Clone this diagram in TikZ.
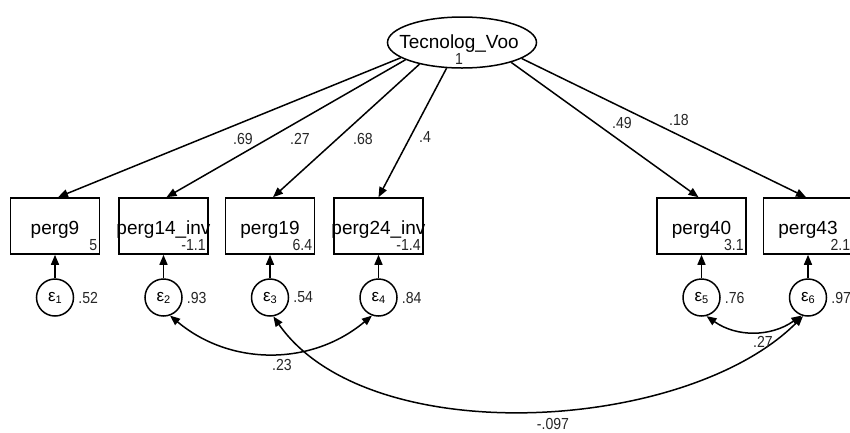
\documentclass[tikz,border=0pt]{standalone}
\usepackage{fontspec}
\setmainfont{Liberation Sans}
\newfontfamily\numfont[FakeStretch=0.88]{Liberation Sans}
\usetikzlibrary{arrows.meta,shapes.geometric}

\begin{document}
\begin{tikzpicture}[x=1pt,y=1pt,
  obs/.style={draw, line width=1.6pt, rectangle, minimum width=89pt, minimum height=56pt, inner sep=0pt},
  lat/.style={draw, line width=1.5pt, ellipse, minimum width=149pt, minimum height=51pt, inner sep=0pt},
  err/.style={draw, line width=1.5pt, circle, minimum size=37pt, inner sep=0pt},
  varlabel/.style={font=\fontsize{19}{19}\selectfont, inner sep=0pt, text=black},
  num/.style={font=\numfont\fontsize{16}{16}\selectfont, inner sep=0pt, text=black!85},
  loading/.style={line width=1.5pt, -{Triangle[length=10pt,width=8pt]}},
  cov/.style={line width=1.5pt, {Triangle[length=10pt,width=8pt]}-{Triangle[length=10pt,width=8pt]}},
]
\useasboundingbox (0,0) rectangle (850,-432);
\clip (0,0) rectangle (850,-432);
\fill[white] (0,0) rectangle (850,-432);

% latent variable
\node[lat] (lv) at (462,-42.5) {};
\node[varlabel, anchor=base] (lvname) at (459,-48) {Tecnolog\_Voo};
\node[num, anchor=base] (lvvar) at (459,-64) {1};

% observed indicators
\foreach \id/\x/\lab/\m in {p9/55/perg9/5, p14/163.5/perg14\_inv/-1.1, p19/270/perg19/6.4,
    p24/378.5/perg24\_inv/-1.4, p40/701.5/perg40/3.1, p43/808/perg43/2.1}{
  \node[obs] (\id) at (\x,-226) {};
  \node[varlabel, anchor=base] (\id name) at (\x,-234) {\lab};
  \node[num, anchor=base east] (\id mean) at ([xshift=-3pt,yshift=4pt]\id.south east) {\m};
}

% error terms
\foreach \id/\x/\k/\v in {e1/55/1/.52, e2/163.5/2/.93, e3/270/3/.54,
    e4/378.5/4/.84, e5/701.5/5/.76, e6/808/6/.97}{
  \node[err] (\id) at (\x,-297.5) {\fontsize{17}{17}\selectfont ε\raisebox{-2pt}{\fontsize{11}{11}\selectfont\k}};
  \node[num, anchor=west] (\id var) at ([xshift=4pt]\id.east) {\v};
}

% error paths
\foreach \e/\p in {e1/p9, e2/p14, e3/p19, e4/p24, e5/p40, e6/p43}
  \draw[loading] (\e) -- (\p);

% factor loadings
\draw[loading] (lv.194.3) -- ([xshift=3pt]p9.north);
\draw[loading] (lv.197.4) -- ([xshift=3pt]p14.north);
\draw[loading] (lv.207.1) -- ([xshift=3pt]p19.north);
\draw[loading] (lv.239.5) -- (p24.north);
\draw[loading] (lv.338.7) -- ([xshift=-3pt]p40.north);
\draw[loading] (lv.345.5) -- ([xshift=-2pt]p43.north);

\node[num] (l9)  at (243,-139) {.69};
\node[num] (l14) at (300,-139) {.27};
\node[num] (l19) at (363,-139) {.68};
\node[num] (l24) at (425,-137) {.4};
\node[num] (l40) at (622,-123) {.49};
\node[num] (l43) at (679,-120) {.18};

% error covariances
\draw[cov] (e2.-70) to[out=-40, in=-140] (e4.-110);
\draw[cov] (e3.-80) to[out=-55, in=-135, looseness=0.8] (e6.-105);
\draw[cov] (e5.-75) to[out=-35, in=-145] (e6.-110);

\node[num] (c24) at (282,-365) {.23};
\node[num] (c36) at (553,-424) {-.097};
\node[num] (c56) at (763,-342) {.27};
\end{tikzpicture}
\end{document}
